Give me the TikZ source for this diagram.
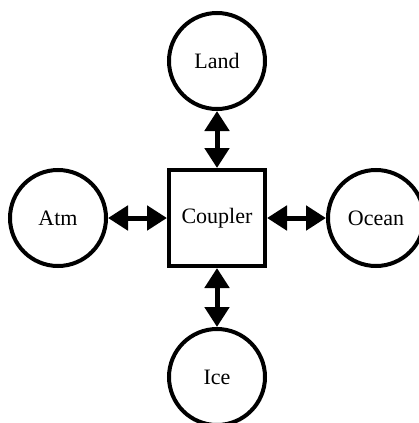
\documentclass[tikz,border=0pt]{standalone}
\usepackage{fontspec}
\setmainfont{Liberation Serif}
\usetikzlibrary{arrows.meta}
\begin{document}
\begin{tikzpicture}[x=1pt,y=-1pt,
  model/.style={draw=black,line width=4pt,circle,minimum size=96pt,inner sep=0pt,
    font=\fontsize{22}{26}\selectfont},
  hub/.style={draw=black,line width=4pt,rectangle,minimum size=96pt,inner sep=0pt,
    font=\fontsize{22}{26}\selectfont},
  link/.style={line width=5pt,{Triangle[length=20pt,width=24pt]}-{Triangle[length=20pt,width=24pt]}}]
  \useasboundingbox[fill=white] (0,0) rectangle (418,423);
  \node[hub]   (coupler) at (217,218) {Coupler};
  \node[model] (land)    at (217,61)  {Land};
  \node[model] (atm)     at (58,218)  {Atm};
  \node[model] (ocean)   at (376,218) {Ocean};
  \node[model] (ice)     at (217,377) {Ice};
  \draw[link] (land) -- (coupler);
  \draw[link] (atm) -- (coupler);
  \draw[link] (ocean) -- (coupler);
  \draw[link] (ice) -- (coupler);
\end{tikzpicture}
\end{document}
